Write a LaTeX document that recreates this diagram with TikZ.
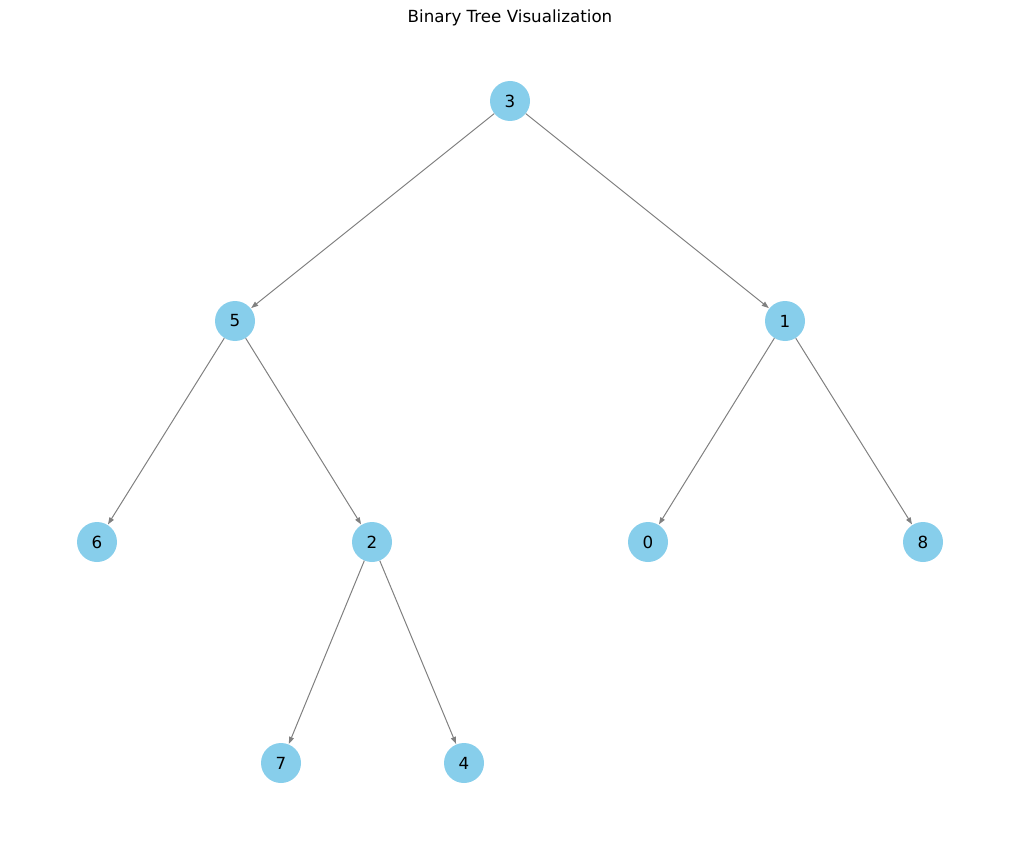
\documentclass[tikz,border=0pt]{standalone}
\usepackage{fontspec}
\setmainfont{DejaVu Sans}
\usetikzlibrary{arrows.meta}
\definecolor{skyblue}{HTML}{87CEEB}
\begin{document}
\begin{tikzpicture}[x=1pt,y=-1pt,
  treenode/.style={circle,fill=skyblue,minimum size=40pt,inner sep=0pt,font=\fontsize{16.7}{20}\selectfont},
  edge/.style={draw=gray,line width=1pt,-{Triangle[length=7pt,width=5pt]},shorten >=0.5pt}]
\useasboundingbox (0,0) rectangle (1019,842);
\node[font=\fontsize{16.7}{20}\selectfont] (title) at (510,18) {Binary Tree Visualization};
\node[treenode] (n3) at (510,101) {3};
\node[treenode] (n5) at (235,321) {5};
\node[treenode] (n1) at (785,321) {1};
\node[treenode] (n6) at (97,542) {6};
\node[treenode] (n2) at (372,542) {2};
\node[treenode] (n0) at (648,542) {0};
\node[treenode] (n8) at (923,542) {8};
\node[treenode] (n7) at (281,763) {7};
\node[treenode] (n4) at (464,763) {4};
\draw[edge] (n3) -- (n5);
\draw[edge] (n3) -- (n1);
\draw[edge] (n5) -- (n6);
\draw[edge] (n5) -- (n2);
\draw[edge] (n1) -- (n0);
\draw[edge] (n1) -- (n8);
\draw[edge] (n2) -- (n7);
\draw[edge] (n2) -- (n4);
\end{tikzpicture}
\end{document}
